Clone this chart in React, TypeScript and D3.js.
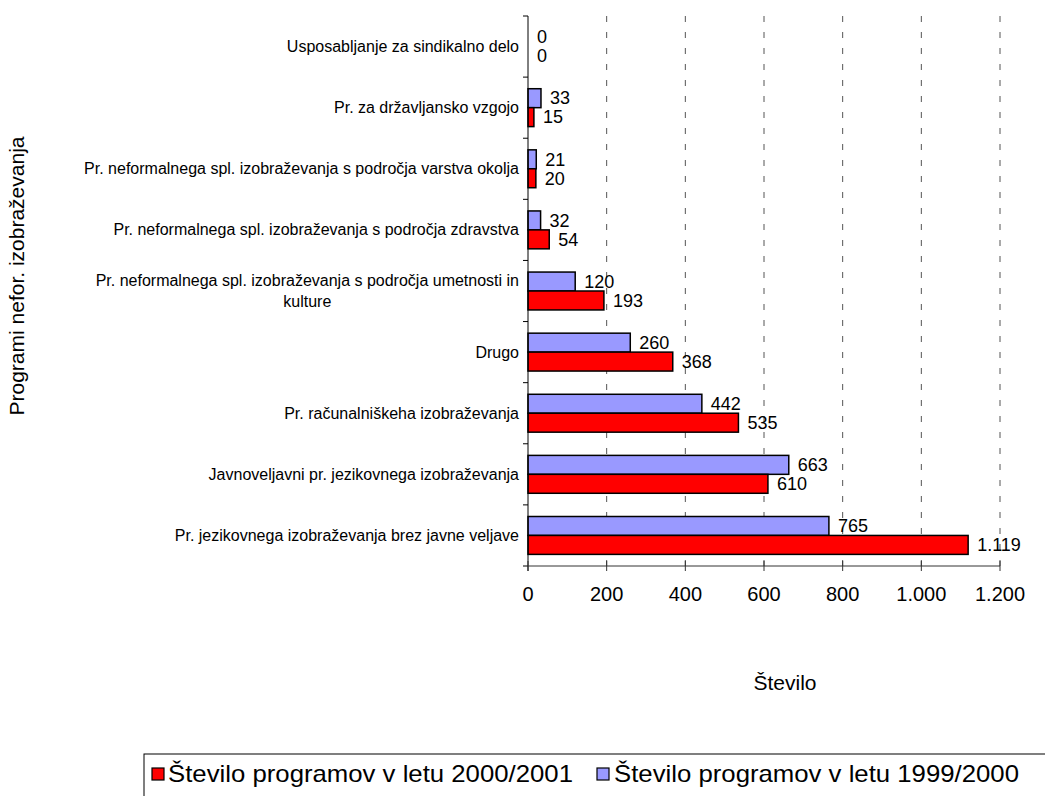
import React, { useEffect, useRef } from "react";
import * as d3 from "d3";

const categories = [
  "Usposabljanje za sindikalno delo",
  "Pr. za državljansko vzgojo",
  "Pr. neformalnega spl. izobraževanja s področja varstva okolja",
  "Pr. neformalnega spl. izobraževanja s področja zdravstva",
  "Pr. neformalnega spl. izobraževanja s področja umetnosti in kulture",
  "Drugo",
  "Pr. računalniškeha izobraževanja",
  "Javnoveljavni pr. jezikovnega izobraževanja",
  "Pr. jezikovnega izobraževanja brez javne veljave",
];
const values19992000 = [0, 33, 21, 32, 120, 260, 442, 663, 765];
const values20002001 = [0, 15, 20, 54, 193, 368, 535, 610, 1119];
const xTicks = [0, 200, 400, 600, 800, 1000, 1200];
const seriesNames = ["Število programov v letu 2000/2001", "Število programov v letu 1999/2000"];
const seriesColors = ["#FF0000", "#9999FF"];
const yTitle = "Programi nefor. izobraževanja";
const xTitle = "Število";

const FONT = "'Liberation Sans', Arial, Helvetica, sans-serif";

export default function App() {
  const ref = useRef<SVGSVGElement | null>(null);

  useEffect(() => {
    const svg = d3.select(ref.current);
    svg.selectAll("*").remove();

    const locale = d3.formatLocale({ decimal: ",", thousands: ".", grouping: [3], currency: ["", " €"] });
    const fmt = locale.format(",d");

    const left = 528, right = 1000, top = 16, bottom = 566;
    const x = d3.scaleLinear().domain([0, 1200]).range([left, right]);
    const y = d3.scaleBand<string>().domain(categories).range([top, bottom]).paddingInner(0.38).paddingOuter(0.19);
    const sub = d3.scaleBand<string>().domain(["b", "r"]).range([0, y.bandwidth()]);

    // gridlines
    svg.append("g").selectAll("line").data(xTicks.slice(1)).join("line")
      .attr("x1", d => x(d)).attr("x2", d => x(d))
      .attr("y1", top).attr("y2", bottom)
      .attr("stroke", "#555").attr("stroke-width", 1)
      .attr("stroke-dasharray", "6 10");

    // bars
    const g = svg.append("g");
    categories.forEach((c, i) => {
      const y0 = y(c)!;
      const rows = [
        { key: "b", v: values19992000[i], color: seriesColors[1] },
        { key: "r", v: values20002001[i], color: seriesColors[0] },
      ];
      rows.forEach(r => {
        const yy = y0 + sub(r.key)!;
        if (r.v > 0) {
          g.append("rect")
            .attr("x", x(0)).attr("y", yy)
            .attr("width", x(r.v) - x(0)).attr("height", sub.bandwidth())
            .attr("fill", r.color).attr("stroke", "#000").attr("stroke-width", 1.5);
        }
        g.append("text")
          .attr("x", x(r.v) + 9).attr("y", yy + sub.bandwidth() / 2)
          .attr("dy", "0.35em")
          .attr("font-family", FONT).attr("font-size", 18).attr("fill", "#000")
          .text(fmt(r.v));
      });
    });

    // y axis
    svg.append("line").attr("x1", left).attr("x2", left).attr("y1", top).attr("y2", bottom + 5)
      .attr("stroke", "#000").attr("stroke-width", 1);
    const yTickPos = categories.map(c => y(c)! - y.step() * y.paddingInner() / 2 - 0.0);
    const boundaries = [top, ...categories.slice(1).map((c, i) => (y(categories[i])! + y.bandwidth() + y(c)!) / 2), bottom];
    svg.append("g").selectAll("line").data(boundaries).join("line")
      .attr("x1", left - 5).attr("x2", left).attr("y1", d => d).attr("y2", d => d)
      .attr("stroke", "#000").attr("stroke-width", 1);
    void yTickPos;

    // x axis
    svg.append("line").attr("x1", left).attr("x2", right).attr("y1", bottom).attr("y2", bottom)
      .attr("stroke", "#333").attr("stroke-width", 1);
    svg.append("g").selectAll("line").data(xTicks).join("line")
      .attr("x1", d => x(d)).attr("x2", d => x(d)).attr("y1", bottom - 5).attr("y2", bottom + 5)
      .attr("stroke", "#333").attr("stroke-width", 1);
    svg.append("g").selectAll("text").data(xTicks).join("text")
      .attr("x", d => x(d)).attr("y", bottom + 35)
      .attr("text-anchor", "middle").attr("font-family", FONT).attr("font-size", 20).attr("fill", "#000")
      .text(d => fmt(d));

    // category labels (wrap)
    const labelRight = 519;
    const maxW = 445;
    const lineH = 21;
    categories.forEach(c => {
      const cy = y(c)! + y.bandwidth() / 2;
      const words = c.split(" ");
      const t = svg.append("text").attr("font-family", FONT).attr("font-size", 16).attr("fill", "#000");
      const lines: string[] = [];
      let cur = "";
      const probe = t.append("tspan");
      words.forEach(w => {
        const test = cur ? cur + " " + w : w;
        probe.text(test);
        if ((probe.node() as SVGTSpanElement).getComputedTextLength() > maxW && cur) {
          lines.push(cur);
          cur = w;
        } else cur = test;
      });
      lines.push(cur);
      probe.remove();
      // width of widest line for centered block
      const widths = lines.map(l => {
        const p = t.append("tspan").text(l);
        const wv = (p.node() as SVGTSpanElement).getComputedTextLength();
        p.remove();
        return wv;
      });
      const blockW = Math.max(...widths);
      const cx = labelRight - blockW / 2;
      lines.forEach((l, k) => {
        t.append("tspan")
          .attr("x", cx).attr("text-anchor", "middle")
          .attr("y", cy + (k - (lines.length - 1) / 2) * lineH)
          .attr("dy", "0.35em")
          .text(l);
      });
    });

    // y title
    svg.append("text")
      .attr("transform", `translate(24,276) rotate(-90)`)
      .attr("text-anchor", "middle").attr("font-family", FONT).attr("font-size", 21).attr("fill", "#000")
      .text(yTitle);

    // x title
    svg.append("text")
      .attr("x", 785).attr("y", 690)
      .attr("text-anchor", "middle").attr("font-family", FONT).attr("font-size", 21).attr("fill", "#000")
      .text(xTitle);

    // legend
    const lg = svg.append("g");
    lg.append("rect").attr("x", 144).attr("y", 754).attr("width", 1000).attr("height", 100)
      .attr("fill", "none").attr("stroke", "#000").attr("stroke-width", 1);
    const items = [
      { name: seriesNames[0], color: seriesColors[0], sx: 152, tx: 168 },
      { name: seriesNames[1], color: seriesColors[1], sx: 597, tx: 614 },
    ];
    items.forEach(it => {
      lg.append("rect").attr("x", it.sx).attr("y", 768).attr("width", 12).attr("height", 12)
        .attr("fill", it.color).attr("stroke", "#000").attr("stroke-width", 1.2);
      lg.append("text").attr("x", it.tx).attr("y", 782)
        .attr("font-family", FONT).attr("font-size", 24).attr("fill", "#000")
        .attr("textLength", 405).attr("lengthAdjust", "spacingAndGlyphs")
        .text(it.name);
    });
  }, []);

  return (
    <svg ref={ref} width={1045} height={796}
      style={{ position: "absolute", left: 0, top: 0, background: "#fff" }} />
  );
}
